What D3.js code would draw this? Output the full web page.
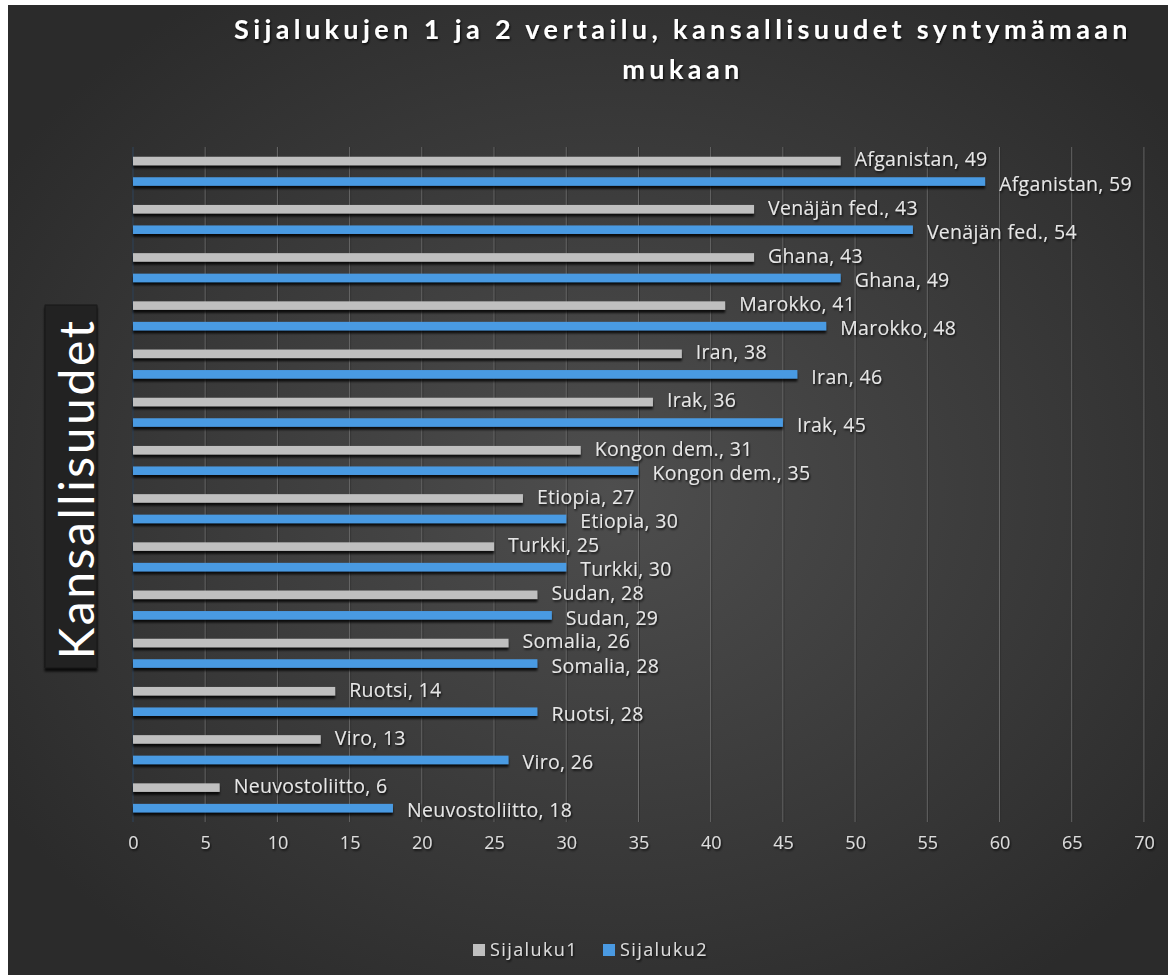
<!DOCTYPE html>
<html>
<head>
<meta charset="utf-8">
<script src="https://cdn.jsdelivr.net/npm/d3@7"></script>
<style>
html,body{margin:0;padding:0;background:#fff;}
svg{display:block;}
</style>
</head>
<body>
<script>
const categories = ["Afganistan","Venäjän fed.","Ghana","Marokko","Iran","Irak","Kongon dem.","Etiopia","Turkki","Sudan","Somalia","Ruotsi","Viro","Neuvostoliitto"];
const sijaluku1 = [49,43,43,41,38,36,31,27,25,28,26,14,13,6];
const sijaluku2 = [59,54,49,48,46,45,35,30,30,29,28,28,26,18];
const seriesNames = ["Sijaluku1","Sijaluku2"];
const seriesColors = ["#bfbfbf","#4a9ae2"];
const xTicks = [0,5,10,15,20,25,30,35,40,45,50,55,60,65,70];
const titleLines = ["Sijalukujen 1 ja 2 vertailu, kansallisuudet syntymämaan","mukaan"];
const yTitle = "Kansallisuudet";

const W = 1172, H = 975;
const svg = d3.select("body").append("svg").attr("width",W).attr("height",H);
const defs = svg.append("defs");
const rg = defs.append("radialGradient").attr("id","bg").attr("cx","52%").attr("cy","50%").attr("r","62%");
rg.append("stop").attr("offset","0%").attr("stop-color","#4e4e4e");
rg.append("stop").attr("offset","100%").attr("stop-color","#2b2b2b");
const f = defs.append("filter").attr("id","ts").attr("x","-10%").attr("y","-30%").attr("width","120%").attr("height","160%");
f.append("feDropShadow").attr("dx",1).attr("dy",1.5).attr("stdDeviation",1).attr("flood-color","#000").attr("flood-opacity",0.85);
const fb = defs.append("filter").attr("id","bs").attr("x","-5%").attr("y","-50%").attr("width","110%").attr("height","250%");
fb.append("feDropShadow").attr("dx",0).attr("dy",3).attr("stdDeviation",1.2).attr("flood-color","#000").attr("flood-opacity",0.8);

svg.append("rect").attr("x",8).attr("y",5).attr("width",1160).attr("height",970).attr("fill","url(#bg)");

const x = d3.scaleLinear().domain([0,70]).range([133,1144]);
const y = d3.scaleBand().domain(categories).range([147.1,822]).paddingInner(0.398).paddingOuter(0.2);
const ys = d3.scaleBand().domain(seriesNames).range([0,y.bandwidth()]).paddingInner(0.585).paddingOuter(0);

// gridlines
svg.append("g").selectAll("line").data(xTicks.slice(1)).join("line")
  .attr("x1",d=>x(d)).attr("x2",d=>x(d)).attr("y1",147).attr("y2",822)
  .attr("stroke","#6a6a6a").attr("stroke-width",1);
svg.append("g").selectAll("line").data(xTicks.slice(1)).join("line")
  .attr("x1",d=>x(d)+1).attr("x2",d=>x(d)+1).attr("y1",147).attr("y2",822)
  .attr("stroke","#2a2a2a").attr("stroke-width",1).attr("opacity",0.6);
svg.append("line").attr("x1",x(0)).attr("x2",x(0)).attr("y1",147).attr("y2",822).attr("stroke","#2f3a46").attr("stroke-width",2);

// x axis
const xAxis = svg.append("g").attr("transform","translate(0,836)")
  .call(d3.axisBottom(x).tickValues(xTicks).tickSize(0).tickPadding(0));
xAxis.select(".domain").remove();
xAxis.selectAll("text").attr("fill","#dcdcdc").attr("font-family","'Open Sans', sans-serif").attr("font-size",18).attr("dy","0.71em").attr("filter","url(#ts)");

const data = [sijaluku1, sijaluku2];
data.forEach((vals,si)=>{
  const g = svg.append("g");
  g.selectAll("rect").data(vals).join("rect")
    .attr("x",x(0)).attr("y",(d,i)=>y(categories[i])+ys(seriesNames[si]))
    .attr("width",d=>x(d)-x(0)).attr("height",ys.bandwidth())
    .attr("fill",seriesColors[si]).attr("filter","url(#bs)");
  g.selectAll("text").data(vals).join("text")
    .attr("x",d=>x(d)+14)
    .attr("y",(d,i)=>y(categories[i])+ys(seriesNames[si])+ys.bandwidth()/2 + (si===0?-1.5:2.5))
    .attr("dy","0.35em")
    .attr("fill","#e6e6e6").attr("font-family","'Open Sans', sans-serif").attr("font-size",19.5).attr("letter-spacing",0.3)
    .attr("filter","url(#ts)")
    .text((d,i)=>categories[i]+", "+d);
});

// title
svg.append("g").selectAll("text").data(titleLines).join("text")
  .attr("x",683).attr("y",(d,i)=>39+i*40).attr("text-anchor","middle")
  .attr("fill","#ffffff").attr("font-family","Lato, sans-serif").attr("font-weight","bold")
  .attr("font-size",27).attr("letter-spacing",4.4).attr("filter","url(#ts)")
  .text(d=>d);

// y title box
svg.append("rect").attr("x",45).attr("y",305).attr("width",52).attr("height",363)
  .attr("fill","#232323").attr("stroke","#1a1a1a").attr("filter","url(#bs)");
svg.append("text").attr("transform","translate(94,489) rotate(-90)").attr("text-anchor","middle")
  .attr("fill","#ffffff").attr("font-family","Lato, sans-serif").attr("font-size",48).attr("letter-spacing",2.6)
  .text(yTitle);

// legend
const leg = svg.append("g").attr("transform","translate(473,950)");
const lx = [0,130];
seriesNames.forEach((s,i)=>{
  leg.append("rect").attr("x",lx[i]).attr("y",-6).attr("width",12).attr("height",12).attr("fill",seriesColors[i]);
  leg.append("text").attr("x",lx[i]+17).attr("y",0).attr("dy","0.35em")
    .attr("fill","#dcdcdc").attr("font-family","'Open Sans', sans-serif").attr("font-size",18).attr("letter-spacing",1.4).attr("filter","url(#ts)").text(s);
});
</script>
</body>
</html>
